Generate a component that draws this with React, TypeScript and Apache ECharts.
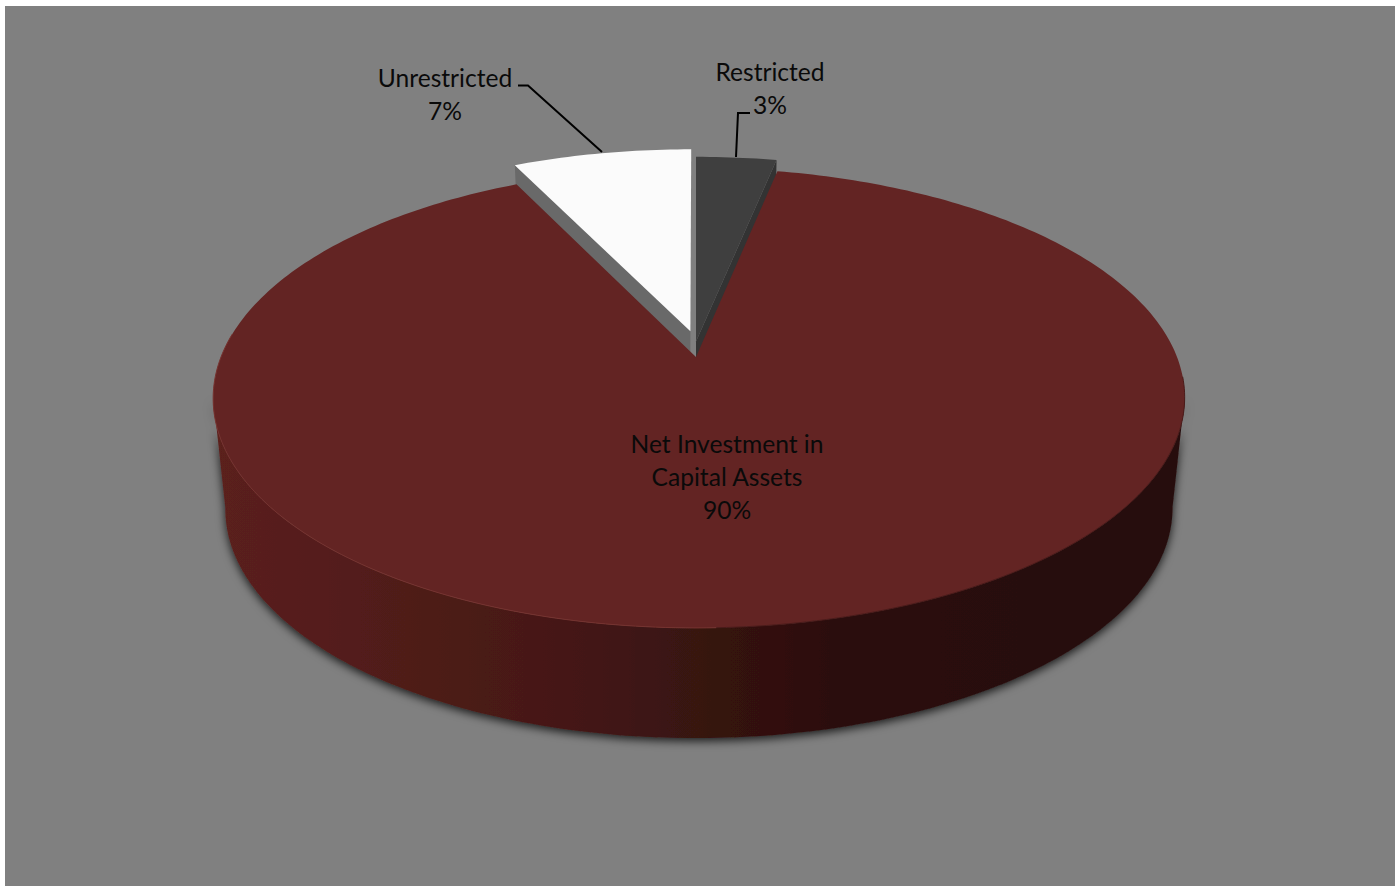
import React, { useEffect, useRef } from "react";
import * as echarts from "echarts";

const categories = ["Restricted", "Net Investment in Capital Assets", "Unrestricted"];
const values = [3.2, 89.6, 7.2];
const labelLines = [["Restricted"], ["Net Investment in", "Capital Assets"], ["Unrestricted"]];
const topColors = ["#3f3f3f", "#632423", "#fbfbfb"];
const wallColors = ["#333333", "#3a1210", "#696969"];
const drawOrder = [0, 2, 1];

const DEG = Math.PI / 180;
const K = 0.178;
const TOP = { x: 696, y: 357, r: 478, s: 222.7 };
const BOTTOM = { x: 696, y: 468, r: 466, s: 222 };
const EXPLODE: [number, number][] = [[0, 0.07], [0, 0], [-0.012, 0.118]];

function project(plane: typeof TOP, angle: number, du: number, dv: number, radius = 1) {
  const u = Math.sin(angle * DEG) * radius;
  const v = Math.cos(angle * DEG) * radius;
  const pu = u + du;
  const pv = v + dv;
  const d = 1 + K * pv;
  return [plane.x + (plane.r * pu) / d + 3 * u * u, plane.y - (plane.s * pv) / d];
}

function arc(plane: typeof TOP, from: number, to: number, du = 0, dv = 0) {
  const pts: number[][] = [];
  const n = Math.max(2, Math.ceil(Math.abs(to - from)));
  for (let i = 0; i <= n; i++) pts.push(project(plane, from + ((to - from) * i) / n, du, dv));
  return pts;
}

const total = values.reduce((a, b) => a + b, 0);
let cursor = 0;
const spans = values.map((v) => {
  const from = cursor;
  cursor += (v / total) * 360;
  return [from, cursor];
});

function renderSlice(params: any) {
  const idx = drawOrder[params.dataIndex];
  const [from, to] = spans[idx];
  const [du, dv] = EXPLODE[idx];
  const apexTop = project(TOP, 0, du, dv, 0);
  const apexBottom = project(BOTTOM, 0, du, dv, 0);
  const children: any[] = [];
  if (idx === 1) {
    const wallFill = new echarts.graphic.LinearGradient(
      213, 0, 1185, 0,
      [
        { offset: 0, color: "#5b201d" },
        { offset: 0.2, color: "#4f1c19" },
        { offset: 0.4, color: "#421714" },
        { offset: 0.5, color: "#371311" },
        { offset: 0.66, color: "#2a0e0d" },
        { offset: 1, color: "#260c0c" },
      ],
      true,
    );
    const pts = [...arc(TOP, 100, 260), ...arc(BOTTOM, 260, 100)];
    children.push({
      type: "polygon",
      shape: { points: pts },
      style: { fill: wallFill, shadowBlur: 10, shadowOffsetY: 3, shadowColor: "rgba(0,0,0,0.8)" },
    });
  } else {
    const a = idx === 0 ? to : from;
    const p = project(TOP, a, du, dv);
    const q = project(BOTTOM, a, du, dv);
    children.push({
      type: "polygon",
      shape: { points: [p, apexTop, apexBottom, q] },
      style: { fill: wallColors[idx] },
    });
  }
  children.push({
    type: "polygon",
    shape: { points: [apexTop, ...arc(TOP, from, to, du, dv)] },
    style: { fill: topColors[idx] },
  });
  if (idx === 1) {
    children.push({
      type: "polyline",
      shape: { points: arc(TOP, 178, 276) },
      style: { fill: "none", stroke: "#763330", lineWidth: 1 },
    });
    children.push({
      type: "polyline",
      shape: { points: arc(TOP, 95, 178) },
      style: { fill: "none", stroke: "#4a1a19", lineWidth: 1 },
    });
  }
  return { type: "group", children };
}

const LABEL_FONT = "24.6px Lato";
const labelAnchors = [
  { x: 770, y: 71 },
  { x: 727, y: 443 },
  { x: 445, y: 77 },
];
const leaderLines = [
  [[750, 113], [738, 113], [736, 157]],
  null,
  [[518, 85.5], [528, 85.5], [602, 152]],
];

function renderLabel(params: any) {
  const idx = params.dataIndex;
  const lines = [...labelLines[idx], `${Math.round(values[idx])}%`];
  const { x, y } = labelAnchors[idx];
  const children: any[] = lines.map((t, i) => ({
    type: "text",
    style: {
      text: t,
      x,
      y: y + i * 33,
      font: LABEL_FONT,
      fill: "#0a0a0a",
      textAlign: "center",
      textVerticalAlign: "middle",
    },
  }));
  const leader = leaderLines[idx];
  if (leader) {
    children.push({
      type: "polyline",
      shape: { points: leader },
      style: { fill: "none", stroke: "#000000", lineWidth: 2 },
    });
  }
  return { type: "group", children };
}

export default function App() {
  const ref = useRef<HTMLDivElement>(null);
  useEffect(() => {
    const chart = echarts.init(ref.current!, undefined, { renderer: "svg" });
    chart.setOption({
      animation: false,
      graphic: [
        { type: "rect", z: 0, shape: { x: 5, y: 6, width: 1390, height: 880 }, style: { fill: "#808080" } },
      ],
      series: [
        {
          type: "custom",
          coordinateSystem: "none",
          z: 2,
          renderItem: renderSlice,
          data: drawOrder.map((i) => ({ name: categories[i], value: values[i] })),
          silent: true,
        },
        {
          type: "custom",
          coordinateSystem: "none",
          z: 3,
          renderItem: renderLabel,
          data: categories.map((c, i) => ({ name: c, value: values[i] })),
          silent: true,
        },
      ],
    });
    return () => chart.dispose();
  }, []);
  return (
    <div
      ref={ref}
      style={{ position: "fixed", left: 0, top: 0, width: 1395, height: 886, background: "#ffffff" }}
    />
  );
}
